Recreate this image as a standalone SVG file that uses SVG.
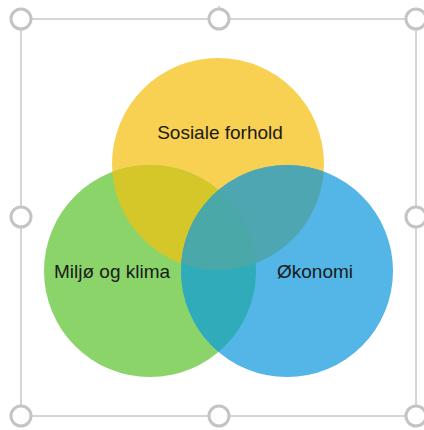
<svg xmlns="http://www.w3.org/2000/svg" width="424" height="430" viewBox="0 0 424 430">
<style>
.lbl{font-family:"Liberation Sans",Arial,sans-serif;font-size:19px;fill:#1a1a1a;text-anchor:middle;}
.frame{fill:none;stroke:#c8c8c8;stroke-width:1.5;}
.handle{fill:#ffffff;stroke:#c4c4c4;stroke-width:3;}
</style>
<defs>
<clipPath id="cY"><circle cx="218" cy="164" r="106"/></clipPath>
<clipPath id="cG"><circle cx="150" cy="271" r="106"/></clipPath>
<clipPath id="cB"><circle cx="287" cy="271" r="106"/></clipPath>
</defs>
<rect width="424" height="430" fill="#ffffff"/>
<g id="selection">
<rect class="frame" x="21" y="19" width="395" height="397"/>
<line x1="219" y1="6" x2="219" y2="10" stroke="#c8c8c8" stroke-width="1.5"/>
<circle class="handle" cx="21" cy="19" r="10"/>
<circle class="handle" cx="219" cy="19" r="10"/>
<circle class="handle" cx="416" cy="19" r="10"/>
<circle class="handle" cx="21" cy="217" r="10"/>
<circle class="handle" cx="416" cy="217" r="10"/>
<circle class="handle" cx="21" cy="416" r="10"/>
<circle class="handle" cx="219" cy="416" r="10"/>
<circle class="handle" cx="416" cy="416" r="10"/>
</g>
<g id="sosiale">
<circle cx="218" cy="164" r="106" fill="#F8D152"/>
</g>
<g id="miljo">
<circle cx="150" cy="271" r="106" fill="#8AD46A"/>
</g>
<g id="okonomi">
<circle cx="287" cy="271" r="106" fill="#53B6E6"/>
</g>
<g id="overlaps">
<g clip-path="url(#cY)"><circle cx="150" cy="271" r="106" fill="#D5C62A"/></g>
<g clip-path="url(#cY)"><circle cx="287" cy="271" r="106" fill="#4EA6B3"/></g>
<g clip-path="url(#cG)"><circle cx="287" cy="271" r="106" fill="#2FABBA"/></g>
<g clip-path="url(#cY)"><g clip-path="url(#cG)"><circle cx="287" cy="271" r="106" fill="#4AA8A8"/></g></g>
</g>
<g id="labels">
<text class="lbl" x="220" y="139">Sosiale forhold</text>
<text class="lbl" x="112" y="278">Miljø og klima</text>
<text class="lbl" x="315" y="278">Økonomi</text>
</g>
</svg>
